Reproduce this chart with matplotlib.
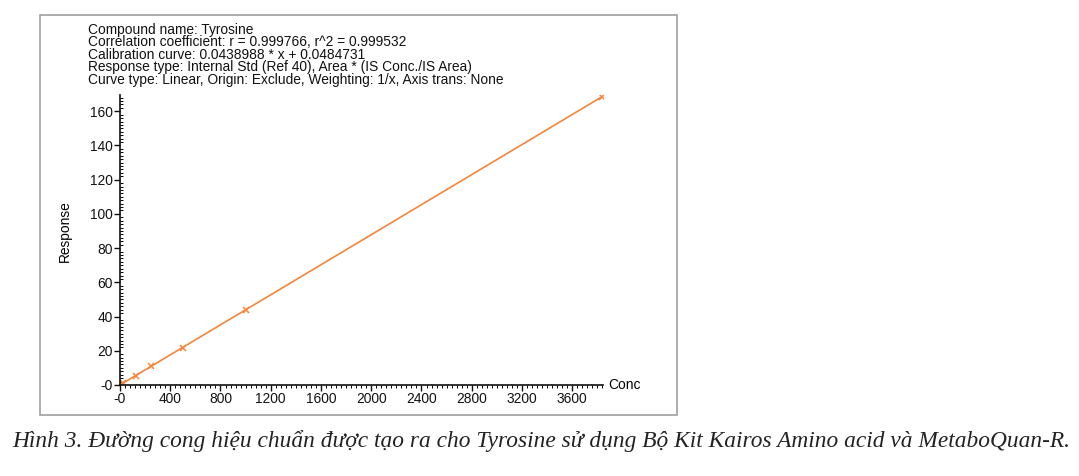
import numpy as np
import matplotlib.pyplot as plt
from matplotlib.patches import Rectangle
from matplotlib.ticker import MultipleLocator, FuncFormatter

# calibration standards
conc = [20, 125, 250, 500, 1000, 3840]
response = [0.9, 5.5, 11.0, 21.9, 43.9, 168.6]

# fitted line
slope = 0.0438988
intercept = 0.0484731

header_lines = [
    "Compound name: Tyrosine",
    "Correlation coefficient: r = 0.999766, r^2 = 0.999532",
    "Calibration curve: 0.0438988 * x + 0.0484731",
    "Response type: Internal Std (Ref 40), Area * (IS Conc./IS Area)",
    "Curve type: Linear, Origin: Exclude, Weighting: 1/x, Axis trans: None",
]
caption = ("Hình 3. Đường cong hiệu chuẩn được tạo ra cho Tyrosine sử dụng "
           "Bộ Kit Kairos Amino acid và MetaboQuan-R.")

plt.rcParams["font.family"] = ["Liberation Sans", "DejaVu Sans"]
W, H = 1079, 476
fig = plt.figure(figsize=(W / 100, H / 100), dpi=100)

# grey frame around the chart panel
fig.patches.append(Rectangle((40 / W, 1 - 415 / H), 637 / W, 400 / H,
                             transform=fig.transFigure, fill=False,
                             edgecolor="#a0a0a0", linewidth=1.2))

ax = fig.add_axes([120 / W, 1 - 385 / H, 483 / W, 290 / H])
line_color = "#f5853a"
xs = np.array([0, conc[-1]])
ax.plot(xs, slope * xs + intercept, color=line_color, linewidth=1.2)
ax.plot(conc, response, linestyle="none", marker="x", color=line_color,
        markersize=5, markeredgewidth=1.1)

ax.set_xlim(0, 3845)
ax.set_ylim(0, 169.5)
for side in ("top", "right"):
    ax.spines[side].set_visible(False)
for side in ("left", "bottom"):
    ax.spines[side].set_linewidth(1.2)
    ax.spines[side].set_color("#111111")

ax.xaxis.set_major_locator(MultipleLocator(400))
ax.xaxis.set_minor_locator(MultipleLocator(40))
ax.yaxis.set_major_locator(MultipleLocator(20))
ax.yaxis.set_minor_locator(MultipleLocator(2))
fmt = FuncFormatter(lambda v, p: "-0" if v == 0 else f"{v:.0f}")
ax.xaxis.set_major_formatter(fmt)
ax.yaxis.set_major_formatter(fmt)
ax.tick_params(which="major", length=4, width=1, labelsize=9.9, pad=1,
               colors="#111111")
ax.tick_params(axis="y", which="minor", direction="in", length=2, width=0.7)
ax.tick_params(axis="x", which="minor", direction="out", length=2, width=0.7)

ax.set_ylabel("Response", fontsize=9.9)
ax.yaxis.set_label_coords(-0.1, 0.53)
ax.text(1.01, 0, "Conc", transform=ax.transAxes, fontsize=9.9,
        ha="left", va="center")

for i, t in enumerate(header_lines):
    fig.text(88 / W, 1 - (30 + 12.4 * i) / H, t, fontsize=9.9,
             ha="left", va="center", color="#111111")

fig.text(12 / W, 1 - 447 / H, caption, fontsize=16.8, style="italic",
         family=["Liberation Serif", "DejaVu Serif"], ha="left",
         va="baseline", color="#222222")

fig.savefig("out.png", dpi=100)
